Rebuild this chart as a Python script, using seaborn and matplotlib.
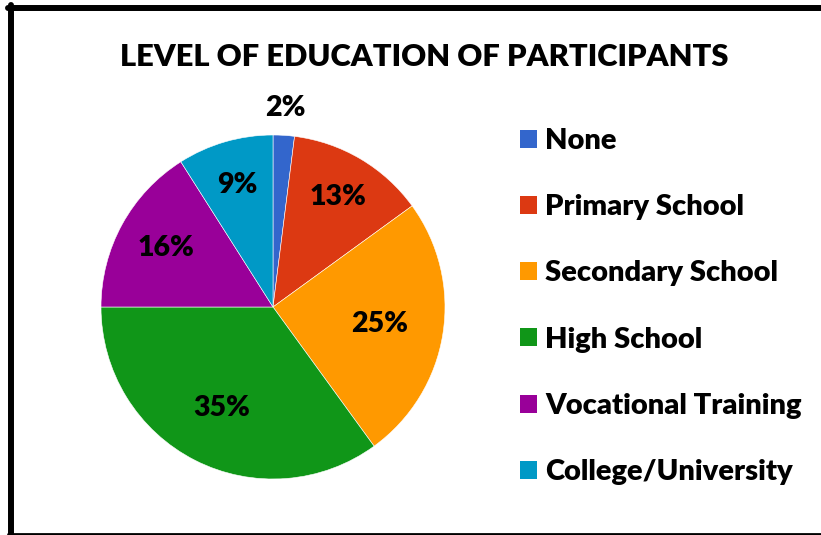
"""
Pie chart of participants' level of education.
"""

import matplotlib.pyplot as plt
import numpy as np
import seaborn as sns
from matplotlib.lines import Line2D
from matplotlib.patches import Patch

categories = ["None", "Primary School", "Secondary School", "High School",
              "Vocational Training", "College/University"]
shares = [2, 13, 25, 35, 16, 9]
colors = ["#3366CC", "#DC3912", "#FF9900", "#109618", "#990099", "#0099C6"]
title = "LEVEL OF EDUCATION OF PARTICIPANTS"

# radial position of each percentage label (fraction of radius)
label_dist = [1.16, 0.74, 0.63, 0.66, 0.71, 0.74]

sns.set_theme(style="white")
plt.rcParams["font.family"] = ["Lato", "DejaVu Sans"]
plt.rcParams["text.color"] = "black"

W, H = 821, 535
fig = plt.figure(figsize=(W / 100, H / 100), dpi=100)
fig.patch.set_facecolor("white")

# pie centre (273, 307) px, radius 172 px
cx, cy, r = 273, 307, 172
ax = fig.add_axes([(cx - r) / W, (H - cy - r) / H, 2 * r / W, 2 * r / H])
wedges, _ = ax.pie(
    shares,
    colors=colors,
    startangle=90,
    counterclock=False,
    radius=1,
    wedgeprops=dict(linewidth=0.4, edgecolor="white"),
)
ax.set_xlim(-1, 1)
ax.set_ylim(-1, 1)
ax.set_aspect("equal")
ax.axis("off")

for wedge, share, dist in zip(wedges, shares, label_dist):
    ang = np.deg2rad((wedge.theta1 + wedge.theta2) / 2)
    ax.text(dist * np.cos(ang), dist * np.sin(ang), f"{share}%",
            ha="center", va="center", fontsize=20.5, fontweight="heavy",
            color="black", clip_on=False)

fig.text(424 / W, 1 - 57 / H, title, ha="center", va="center",
         fontsize=22.2, fontweight="heavy", color="black")

handles = [Patch(facecolor=c, edgecolor="none") for c in colors]
leg = fig.legend(handles, categories, loc="upper left",
                 bbox_to_anchor=(520 / W, 1 - 128 / H), frameon=False,
                 prop=dict(size=21, weight="heavy"), handlelength=0.57,
                 handleheight=0.57, handletextpad=0.3, labelspacing=1.38,
                 borderpad=0, borderaxespad=0)
for t in leg.get_texts():
    t.set_color("black")

# frame around the chart
fig.add_artist(Line2D([8 / W, 1], [1 - 8 / H] * 2, color="black",
                      linewidth=4.3, transform=fig.transFigure))
fig.add_artist(Line2D([11 / W] * 2, [1 - 5 / H, 0], color="black",
                      linewidth=4.3, transform=fig.transFigure))
fig.add_artist(Line2D([8 / W, 1], [1.5 / H] * 2, color="black",
                      linewidth=2, transform=fig.transFigure))

fig.savefig("out.png", dpi=100)
